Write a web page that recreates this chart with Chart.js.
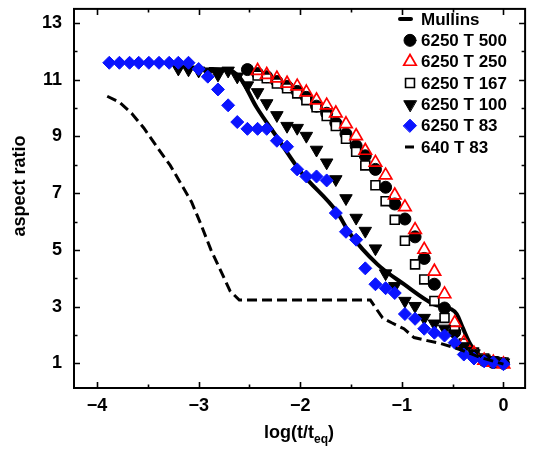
<!DOCTYPE html>
<html><head><meta charset="utf-8">
<script src="https://cdn.jsdelivr.net/npm/chart.js@4/dist/chart.umd.min.js"></script>
<style>html,body{margin:0;padding:0;background:#fff}#wrap{width:534px;height:451px;position:relative}</style>
</head><body><div id="wrap"><canvas id="c"></canvas></div>
<script>
// log(t/t_eq) sampling grid of the simulation snapshots
const logT = [-3.88,-3.78,-3.68,-3.59,-3.49,-3.39,-3.29,-3.20,-3.10,-3.00,
  -2.91,-2.81,-2.71,-2.62,-2.52,-2.42,-2.33,-2.23,-2.13,-2.03,
  -1.94,-1.84,-1.74,-1.65,-1.55,-1.45,-1.36,-1.26,-1.16,-1.07,
  -0.97,-0.87,-0.78,-0.68,-0.58,-0.48,-0.39,-0.29,-0.19,-0.10,0.00];

// each series ends at log(t/teq)=0 (last values aligned with end of logT)
const T500 = [11.36,11.22,11.11,10.94,10.77,10.59,10.38,10.07,9.82,9.48,9.09,8.67,8.32,7.84,
  7.21,6.62,6.09,5.46,4.70,3.79,2.95,2.10,1.63,1.28,1.10,1.03,1.00];
const T250 = [11.32,11.18,11.05,10.87,10.77,10.56,10.28,10.10,9.82,9.44,9.02,8.50,8.08,
  7.63,6.93,6.51,5.71,5.01,4.24,3.44,2.43,1.73,1.35,1.10,1.03,0.97];
const T167 = [11.15,11.05,10.87,10.70,10.52,10.28,10.03,9.72,9.37,8.92,8.46,7.98,7.28,
  6.72,6.06,5.32,4.49,3.96,3.20,2.60,2.15,1.70,1.38,1.17,1.07,1.03];
const T100 = [11.39,11.36,11.32,11.29,11.18,11.32,11.11,10.80,10.56,10.17,9.75,9.37,9.30,9.02,
  8.53,8.08,7.49,6.82,6.13,5.67,5.05,4.17,3.72,3.20,3.02,2.60,2.40,2.22,2.05,1.60,1.35,1.17,1.10,1.03];
const T83 = [11.6,11.6,11.6,11.6,11.6,11.6,11.6,11.6,11.6,11.38,11.11,10.66,10.10,9.51,9.27,9.27,9.27,
  8.85,8.64,7.84,7.59,7.59,7.45,6.30,5.64,5.36,4.35,3.79,3.65,3.48,2.74,2.57,2.22,2.08,1.98,1.73,
  1.31,1.17,1.07,1.03,0.97];

const mullinsX = [-2.90,-2.72,-2.59,-2.43,-2.23,-1.99,-1.64,-1.51,-1.24,-0.98,-0.69,-0.52,-0.46,-0.40,-0.33,-0.23,-0.11,0.02];
const mullinsY = [11.38,11.36,11.05,10.03,8.98,7.73,6.34,5.57,4.49,3.79,3.09,2.92,2.74,2.25,1.70,1.21,1.10,1.00];

const d640X = [-3.90,-3.78,-3.66,-3.54,-3.39,-3.28,-3.17,-3.07,-2.98,-2.88,-2.78,-2.69,-2.60,-1.31,-1.19,-1.10,-0.98,-0.88,-0.75,-0.62,-0.49,-0.40,-0.23,0.00];
const d640Y = [10.42,10.21,9.82,9.30,8.53,7.98,7.31,6.69,5.92,5.01,4.24,3.55,3.23,3.23,2.60,2.43,2.22,1.91,1.80,1.70,1.56,1.45,1.21,0.97];

const xTicks = [-4,-3.5,-3,-2.5,-2,-1.5,-1,-0.5,0];
const yTicks = [1,2,3,4,5,6,7,8,9,10,11,12,13];
const yLabelled = [1,3,5,7,9,11,13];

function tail(ys){ const off = logT.length - ys.length; return ys.map((y,i)=>({x:logT[off+i], y})); }
function zip(xs, ys){ return xs.map((x,i)=>({x, y:ys[i]})); }
const FAM = "'Liberation Sans', Arial, sans-serif";
const fmt = v => v < 0 ? '\u2212' + Math.abs(v) : String(v);

const ds = [
  {label:'Mullins', data: zip(mullinsX, mullinsY), showLine:true, borderColor:'#000', borderWidth:4, pointRadius:0, cubicInterpolationMode:'monotone', order:7, lg:{kind:'line'}},
  {label:'6250 T 500', data: tail(T500), showLine:false, pointStyle:'circle', pointRadius:6, pointBackgroundColor:'#000', pointBorderColor:'#000', pointBorderWidth:1, order:6},
  {label:'6250 T 250', data: tail(T250), showLine:false, pointStyle:'triangle', pointRadius:7.2, pointBackgroundColor:'rgba(0,0,0,0)', pointBorderColor:'#ff0000', pointBorderWidth:1.7, order:4},
  {label:'6250 T 167', data: tail(T167), showLine:false, pointStyle:'rect', pointRadius:6.3, pointBackgroundColor:'#fff', pointBorderColor:'#000', pointBorderWidth:1.6, order:5},
  {label:'6250 T 100', data: tail(T100), showLine:false, pointStyle:'triangle', pointRotation:180, pointRadius:7.2, pointBackgroundColor:'#000', pointBorderColor:'#000', pointBorderWidth:1, order:3},
  {label:'6250 T 83', data: tail(T83), showLine:false, pointStyle:'rectRot', pointRadius:6.5, pointBackgroundColor:'#0a14ff', pointBorderColor:'#0a14ff', pointBorderWidth:1, order:2},
  {label:'640 T 83', data: zip(d640X, d640Y), showLine:true, borderColor:'#000', borderWidth:3, borderDash:[10,5], pointRadius:0, tension:0, order:1, lg:{kind:'dash'}}
];

const deco = {
  id:'deco',
  afterDraw(chart){
    const ctx = chart.ctx, xs = chart.scales.x, ys = chart.scales.y, a = chart.chartArea;
    ctx.save();
    ctx.strokeStyle = '#000'; ctx.lineWidth = 2;
    ctx.strokeRect(a.left, a.top, a.right - a.left, a.bottom - a.top);
    ctx.lineWidth = 1.6;
    ctx.beginPath();
    xTicks.forEach(v => {
      const p = Math.round(xs.getPixelForValue(v)) + 0.5;
      const L = Number.isInteger(v) ? 6 : 3.5;
      ctx.moveTo(p, a.bottom); ctx.lineTo(p, a.bottom - L);
      ctx.moveTo(p, a.top); ctx.lineTo(p, a.top + L);
    });
    yTicks.forEach(v => {
      const p = Math.round(ys.getPixelForValue(v)) + 0.5;
      const L = yLabelled.includes(v) ? 6 : 3.5;
      ctx.moveTo(a.left, p); ctx.lineTo(a.left + L, p);
      ctx.moveTo(a.right, p); ctx.lineTo(a.right - L, p);
    });
    ctx.stroke();

    ctx.fillStyle = '#000';
    ctx.font = 'bold 18px ' + FAM;
    ctx.textAlign = 'center'; ctx.textBaseline = 'middle';
    ctx.save(); ctx.translate(20, 186); ctx.rotate(-Math.PI/2); ctx.fillText('aspect ratio', 0, 0); ctx.restore();
    ctx.textAlign = 'left'; ctx.textBaseline = 'alphabetic';
    const p1 = 'log(t/t', p2 = 'eq', p3 = ')';
    ctx.font = 'bold 18px ' + FAM; const w1 = ctx.measureText(p1).width, w3 = ctx.measureText(p3).width;
    ctx.font = 'bold 12px ' + FAM; const w2 = ctx.measureText(p2).width;
    let x0 = 299 - (w1 + w2 + w3)/2;
    ctx.font = 'bold 18px ' + FAM; ctx.fillText(p1, x0, 438);
    ctx.font = 'bold 12px ' + FAM; ctx.fillText(p2, x0 + w1, 443);
    ctx.font = 'bold 18px ' + FAM; ctx.fillText(p3, x0 + w1 + w2, 438);

    const sx = 410, tx = 421, y0 = 19, dy = 21.33;
    ctx.font = 'bold 17px ' + FAM; ctx.textBaseline = 'middle';
    chart.data.datasets.forEach((d, i) => {
      const y = y0 + i*dy;
      if (d.lg && d.lg.kind === 'line') {
        ctx.strokeStyle = '#000'; ctx.lineWidth = 4; ctx.lineCap = 'round'; ctx.setLineDash([]);
        ctx.beginPath(); ctx.moveTo(400, y); ctx.lineTo(411, y); ctx.stroke();
      } else if (d.lg && d.lg.kind === 'dash') {
        ctx.strokeStyle = '#000'; ctx.lineWidth = 3; ctx.lineCap = 'butt'; ctx.setLineDash([]);
        ctx.beginPath(); ctx.moveTo(405, y); ctx.lineTo(414, y); ctx.stroke();
      } else {
        ctx.fillStyle = d.pointBackgroundColor; ctx.strokeStyle = d.pointBorderColor; ctx.lineWidth = d.pointBorderWidth;
        Chart.helpers.drawPoint(ctx, {pointStyle:d.pointStyle, radius:d.pointRadius, rotation:d.pointRotation||0, borderWidth:d.pointBorderWidth}, sx, y);
      }
      ctx.fillStyle = '#000';
      ctx.fillText(d.label, tx, y + 1);
    });
    ctx.restore();
  }
};

new Chart(document.getElementById('c'), {
  type:'scatter',
  data:{datasets: ds},
  options:{
    responsive:true, maintainAspectRatio:false, animation:false, devicePixelRatio:1,
    layout:{padding:{left:0, right:1, top:5, bottom:0}},
    plugins:{legend:{display:false}, tooltip:{enabled:false}},
    scales:{
      x:{type:'linear', min:-4.227, max:0.213,
        grid:{display:false, drawTicks:false}, border:{display:false},
        afterBuildTicks: s => { s.ticks = xTicks.map(v => ({value:v})); },
        afterFit: s => { s.height = 63; s.paddingLeft = 0; s.paddingRight = 0; },
        ticks:{autoSkip:false, maxRotation:0, padding:7, color:'#000', font:{family:FAM, size:18, weight:'bold'},
          callback: v => Number.isInteger(v) ? fmt(v) : ''}},
      y:{type:'linear', min:0.13, max:13.5,
        grid:{display:false, drawTicks:false}, border:{display:false},
        afterBuildTicks: s => { s.ticks = yTicks.map(v => ({value:v})); },
        afterFit: s => { s.width = 74; s.paddingTop = 0; s.paddingBottom = 0; },
        ticks:{autoSkip:false, padding:12, color:'#000', font:{family:FAM, size:18, weight:'bold'},
          callback: v => yLabelled.includes(v) ? String(v) : ''}}
    }
  },
  plugins:[deco]
});
</script></body></html>
